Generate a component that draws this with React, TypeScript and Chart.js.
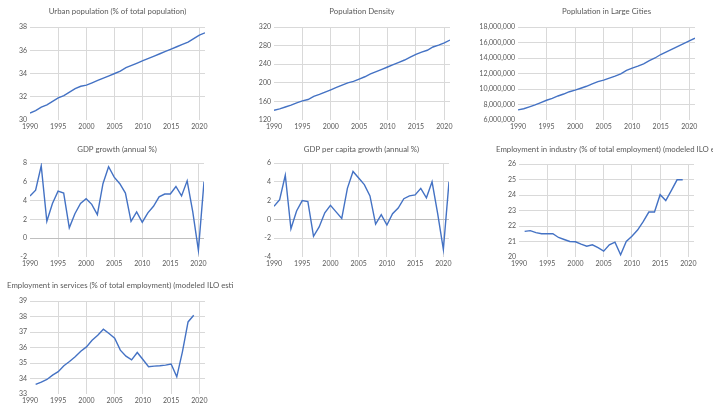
import { useEffect, useRef } from "react";
import { Chart, registerables } from "chart.js";

Chart.register(...registerables);

// ---- data -------------------------------------------------------------
const yearsFull = [
  1990, 1991, 1992, 1993, 1994, 1995, 1996, 1997, 1998, 1999, 2000, 2001, 2002, 2003, 2004, 2005,
  2006, 2007, 2008, 2009, 2010, 2011, 2012, 2013, 2014, 2015, 2016, 2017, 2018, 2019, 2020, 2021,
];
const yearsEmployment = [
  1991, 1992, 1993, 1994, 1995, 1996, 1997, 1998, 1999, 2000, 2001, 2002, 2003, 2004, 2005,
  2006, 2007, 2008, 2009, 2010, 2011, 2012, 2013, 2014, 2015, 2016, 2017, 2018, 2019,
];
const xTickYears = [1990, 1995, 2000, 2005, 2010, 2015, 2020];

const urbanPct = [
  30.6, 30.8, 31.1, 31.3, 31.6, 31.9, 32.1, 32.4, 32.7, 32.9, 33.0, 33.2, 33.4, 33.6, 33.8, 34.0,
  34.2, 34.5, 34.7, 34.9, 35.1, 35.3, 35.5, 35.7, 35.9, 36.1, 36.3, 36.5, 36.7, 37.0, 37.3, 37.5,
];
const popDensity = [
  141, 144, 148, 152, 157, 161, 164, 171, 175, 180, 185, 190, 195, 200, 203, 208,
  213, 219, 224, 229, 234, 239, 244, 249, 255, 261, 266, 270, 277, 281, 286, 292,
];
const largeCities = [
  7300000, 7450000, 7700000, 7950000, 8250000, 8550000, 8800000, 9100000, 9350000, 9650000,
  9850000, 10100000, 10350000, 10650000, 10950000, 11150000, 11400000, 11650000, 11950000,
  12400000, 12700000, 12950000, 13250000, 13650000, 14000000, 14450000, 14800000, 15150000,
  15500000, 15850000, 16200000, 16550000,
];
const gdpGrowth = [
  4.5, 5.1, 7.7, 1.8, 3.7, 5.0, 4.8, 1.1, 2.6, 3.7, 4.2, 3.6, 2.5, 5.8, 7.6, 6.5,
  5.8, 4.8, 1.8, 2.8, 1.7, 2.7, 3.4, 4.4, 4.7, 4.7, 5.5, 4.5, 6.1, 2.8, -1.3, 6.0,
];
const gdpPerCapitaGrowth = [
  1.4, 2.1, 4.7, -1.0, 0.9, 2.0, 1.9, -1.8, -0.8, 0.7, 1.5, 0.8, 0.1, 3.3, 5.1, 4.4,
  3.7, 2.5, -0.5, 0.5, -0.6, 0.6, 1.2, 2.2, 2.5, 2.6, 3.3, 2.3, 4.0, 0.6, -3.2, 4.0,
];
const employmentIndustry = [
  21.65, 21.7, 21.57, 21.5, 21.5, 21.5, 21.26, 21.13, 21.0, 20.98, 20.83, 20.7, 20.79, 20.6, 20.38,
  20.79, 20.96, 20.15, 21.0, 21.34, 21.74, 22.28, 22.9, 22.9, 24.02, 23.64, 24.3, 24.98, 24.98,
];
const employmentServices = [
  33.62, 33.77, 33.94, 34.22, 34.44, 34.82, 35.1, 35.4, 35.76, 36.04, 36.47, 36.79, 37.18, 36.9, 36.6,
  35.83, 35.44, 35.2, 35.68, 35.23, 34.76, 34.8, 34.82, 34.86, 34.93, 34.11, 35.72, 37.65, 38.08,
];

// ---- layout / style ---------------------------------------------------
const CELL_W = 233;
const X_AXIS_H = 12;
const FONT = "Lato";
const TEXT_COLOR = "#595959";
const GRID = "#d9d9d9";
const ZERO_LINE = "#bfbfbf";
const LINE = "#4472C4";

type Panel = {
  title: string;
  years: number[];
  values: number[];
  yMin: number;
  yMax: number;
  yStep: number;
  fmt?: (v: number) => string;
  x: number;
  y: number;
  h: number;
  titleY: number;
  plot: { l: number; t: number; r: number; b: number };
};

const withCommas = (v: number) => v.toLocaleString("en-US");

const panels: Panel[] = [
  {
    title: "Urban population (% of total population)",
    years: yearsFull, values: urbanPct, yMin: 30, yMax: 38, yStep: 2,
    x: 0, y: 0, h: 135, titleY: 11, plot: { l: 30, t: 27, r: 205, b: 120 },
  },
  {
    title: "Population Density",
    years: yearsFull, values: popDensity, yMin: 120, yMax: 320, yStep: 40,
    x: 240, y: 0, h: 135, titleY: 11, plot: { l: 34, t: 27, r: 210, b: 120 },
  },
  {
    title: "Poplulation in Large Cities",
    years: yearsFull, values: largeCities, yMin: 6000000, yMax: 18000000, yStep: 2000000,
    fmt: withCommas,
    x: 480, y: 0, h: 135, titleY: 11, plot: { l: 38, t: 27, r: 215, b: 120 },
  },
  {
    title: "GDP growth (annual %)",
    years: yearsFull, values: gdpGrowth, yMin: -2, yMax: 8, yStep: 2,
    x: 0, y: 135, h: 135, titleY: 14, plot: { l: 30, t: 28, r: 204, b: 122 },
  },
  {
    title: "GDP per capita growth (annual %)",
    years: yearsFull, values: gdpPerCapitaGrowth, yMin: -4, yMax: 6, yStep: 2,
    x: 240, y: 135, h: 135, titleY: 14, plot: { l: 34, t: 28, r: 209, b: 122 },
  },
  {
    title: "Employment in industry (% of total employment) (modeled ILO estimate)",
    years: yearsEmployment, values: employmentIndustry, yMin: 20, yMax: 26, yStep: 1,
    x: 480, y: 135, h: 135, titleY: 14, plot: { l: 39, t: 29, r: 214, b: 122 },
  },
  {
    title: "Employment in services (% of total employment) (modeled ILO estimate)",
    years: yearsEmployment, values: employmentServices, yMin: 33, yMax: 39, yStep: 1,
    x: 0, y: 270, h: 137, titleY: 15, plot: { l: 30, t: 31, r: 205, b: 124 },
  },
];

function LinePanel({ p }: { p: Panel }) {
  const ref = useRef<HTMLCanvasElement | null>(null);

  useEffect(() => {
    if (!ref.current) return;
    const tickFont = { family: FONT, size: 7 };

    const titlePlugin = {
      id: "panelTitle",
      afterDraw(chart: Chart) {
        const { ctx, chartArea } = chart;
        ctx.save();
        ctx.font = `7.8px ${FONT}`;
        ctx.fillStyle = TEXT_COLOR;
        ctx.textBaseline = "middle";
        ctx.textAlign = "left";
        const w = ctx.measureText(p.title).width;
        const cx = (chartArea.left + chartArea.right) / 2;
        const tx = Math.max(cx - w / 2, chartArea.left - 23);
        ctx.fillText(p.title, tx, p.titleY);
        ctx.restore();
      },
    };

    const chart = new Chart(ref.current, {
      type: "line",
      data: {
        datasets: [
          {
            data: p.years.map((yr, i) => ({ x: yr, y: p.values[i] })),
            borderColor: LINE,
            borderWidth: 1.4,
            pointRadius: 0,
            tension: 0,
            fill: false,
          },
        ],
      },
      options: {
        responsive: false,
        animation: false,
        devicePixelRatio: 1,
        layout: {
          padding: {
            left: 0,
            top: p.plot.t,
            right: CELL_W - p.plot.r,
            bottom: p.h - p.plot.b - X_AXIS_H,
          },
        },
        plugins: {
          legend: { display: false },
          title: { display: false },
          tooltip: { enabled: false },
        },
        scales: {
          x: {
            type: "linear",
            min: 1990,
            max: 2021,
            afterBuildTicks: (s: any) => {
              s.ticks = xTickYears.map((v) => ({ value: v }));
            },
            afterFit: (s: any) => {
              s.height = X_AXIS_H;
            },
            border: { display: false },
            grid: {
              drawTicks: false,
              color: (c: any) => (c.tick && c.tick.value === 1990 ? "rgba(0,0,0,0)" : GRID),
              lineWidth: 1,
            },
            ticks: {
              padding: 3,
              autoSkip: false,
              maxRotation: 0,
              color: TEXT_COLOR,
              font: tickFont,
              callback: (v: any) => String(v),
            },
          },
          y: {
            min: p.yMin,
            max: p.yMax,
            afterFit: (s: any) => {
              s.width = p.plot.l;
            },
            border: { display: false },
            grid: {
              drawTicks: false,
              color: (c: any) => {
                const v = c.tick ? c.tick.value : null;
                if (v === 0 && p.yMin < 0) return ZERO_LINE;
                if (v === p.yMin) return "rgba(0,0,0,0)";
                return GRID;
              },
              lineWidth: 1,
            },
            ticks: {
              stepSize: p.yStep,
              padding: 3,
              color: TEXT_COLOR,
              font: tickFont,
              callback: (v: any) => (p.fmt ? p.fmt(Number(v)) : String(v)),
            },
          },
        },
      },
      plugins: [titlePlugin],
    });
    return () => chart.destroy();
  }, [p]);

  return (
    <canvas
      ref={ref}
      width={CELL_W}
      height={p.h}
      style={{ position: "absolute", left: p.x, top: p.y, width: CELL_W, height: p.h }}
    />
  );
}

export default function App() {
  return (
    <div
      style={{
        position: "absolute",
        left: 0,
        top: 0,
        width: 720,
        height: 407,
        background: "#ffffff",
        overflow: "hidden",
      }}
    >
      {panels.map((p) => (
        <LinePanel key={p.title} p={p} />
      ))}
    </div>
  );
}
